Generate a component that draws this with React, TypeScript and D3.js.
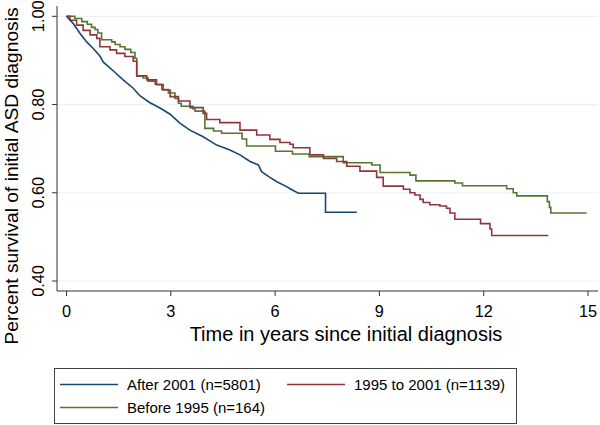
import React from "react";
import * as d3 from "d3";

// Kaplan-Meier survival estimates: [years, survival]
const after2001: [number, number][] = [
  [0, 1.0], [0.19, 0.984], [0.39, 0.961], [0.58, 0.942], [0.77, 0.927], [0.96, 0.91],
  [1.06, 0.896], [1.35, 0.876], [1.63, 0.856], [1.92, 0.837], [2.11, 0.82], [2.4, 0.804],
  [2.69, 0.792], [2.98, 0.778], [3.26, 0.758], [3.55, 0.742], [3.93, 0.727], [4.32, 0.708],
  [4.7, 0.697], [4.99, 0.686], [5.28, 0.671], [5.52, 0.663], [5.61, 0.648], [5.85, 0.635],
  [6.05, 0.625], [6.33, 0.614], [6.43, 0.609], [6.67, 0.599], [7.45, 0.599], [7.45, 0.556],
  [8.35, 0.556],
];

const from1995to2001: [number, number][] = [
  [0, 1.0], [0.1, 0.991], [0.29, 0.98], [0.48, 0.968], [0.68, 0.958], [0.87, 0.95],
  [0.96, 0.931], [1.25, 0.924], [1.44, 0.916], [1.68, 0.909], [1.92, 0.898], [2.02, 0.865],
  [2.31, 0.856], [2.59, 0.845], [2.78, 0.833], [2.98, 0.818], [3.22, 0.808], [3.55, 0.793],
  [3.93, 0.78], [4.03, 0.766], [4.41, 0.759], [4.99, 0.742], [5.47, 0.731], [5.85, 0.721],
  [6.14, 0.714], [6.43, 0.71], [6.52, 0.702], [7.0, 0.686], [7.39, 0.678], [7.77, 0.671],
  [8.06, 0.66], [8.44, 0.649], [8.92, 0.635], [9.11, 0.615], [9.69, 0.608], [9.88, 0.6],
  [10.02, 0.595], [10.17, 0.585], [10.26, 0.578], [10.45, 0.573], [10.74, 0.57], [10.93, 0.565],
  [11.03, 0.554], [11.17, 0.54], [11.91, 0.53], [12.18, 0.518], [12.23, 0.503], [13.86, 0.503],
];

const before1995: [number, number][] = [
  [0, 1.0], [0.24, 0.995], [0.44, 0.988], [0.6, 0.982], [0.72, 0.975], [0.82, 0.97],
  [0.9, 0.962], [1.01, 0.947], [1.3, 0.942], [1.4, 0.936], [1.54, 0.931], [1.68, 0.925],
  [1.85, 0.918], [1.97, 0.905], [2.02, 0.865], [2.2, 0.86], [2.35, 0.853], [2.55, 0.846],
  [2.74, 0.834], [2.93, 0.826], [3.12, 0.814], [3.22, 0.803], [3.3, 0.796], [3.64, 0.79],
  [3.7, 0.785], [3.98, 0.746], [4.23, 0.74], [4.46, 0.735], [5.05, 0.722], [5.18, 0.706],
  [6.01, 0.694], [6.5, 0.688], [6.98, 0.682], [7.96, 0.668], [8.78, 0.663], [9.02, 0.646],
  [9.88, 0.64], [10.05, 0.627], [11.17, 0.622], [11.39, 0.616], [12.66, 0.609], [12.85, 0.6],
  [12.95, 0.593], [13.83, 0.58], [13.89, 0.567], [13.93, 0.554], [14.96, 0.554],
];

const xTicks = [0, 3, 6, 9, 12, 15];
const yTicks = [0.4, 0.6, 0.8, 1.0];
const seriesNames = ["After 2001 (n=5801)", "1995 to 2001 (n=1139)", "Before 1995 (n=164)"];
const seriesColors = ["#1a476f", "#90353b", "#55752f"];
const xTitle = "Time in years since initial diagnosis";
const yTitle = "Percent survival of initial ASD diagnosis";

const W = 600;
const H = 425;
const FONT = "'Liberation Sans', Arial, Helvetica, sans-serif";

export default function App() {
  const x = d3.scaleLinear().domain([0, 15]).range([66.5, 588]);
  const y = d3.scaleLinear().domain([0.4, 1.0]).range([281, 16.3]);
  const axisLeft = 57;
  const axisBottom = 291;
  const plotRight = 598;

  const stepLine = d3
    .line<[number, number]>()
    .x((d) => x(d[0]))
    .y((d) => y(d[1]))
    .curve(d3.curveStepAfter);
  const linLine = d3
    .line<[number, number]>()
    .x((d) => x(d[0]))
    .y((d) => y(d[1]))
    .curve(d3.curveLinear);

  const series = [
    { data: after2001, path: linLine(after2001) },
    { data: from1995to2001, path: stepLine(from1995to2001) },
    { data: before1995, path: stepLine(before1995) },
  ];

  const legendItems = [
    { i: 0, lx: 60, tx: 127, ly: 384.5, ty: 389.5 },
    { i: 1, lx: 287, tx: 354, ly: 384.5, ty: 389.5 },
    { i: 2, lx: 60, tx: 127, ly: 407.5, ty: 412.5 },
  ];

  return (
    <svg
      width={W}
      height={H}
      viewBox={`0 0 ${W} ${H}`}
      style={{ position: "absolute", left: 0, top: 0, background: "#fff" }}
      fontFamily={FONT}
    >
      <rect x={0} y={0} width={W} height={H} fill="#fff" />
      {yTicks.map((t) => (
        <line key={"g" + t} x1={axisLeft} x2={plotRight} y1={y(t)} y2={y(t)} stroke="#eaf2f3" strokeWidth={1.2} />
      ))}
      {[2, 1, 0].map((i) => (
        <path key={"s" + i} d={series[i].path || ""} fill="none" stroke={seriesColors[i]} strokeWidth={1.6} />
      ))}
      <line x1={axisLeft} x2={axisLeft} y1={6} y2={axisBottom} stroke="#333" strokeWidth={1} />
      <line x1={axisLeft} x2={plotRight} y1={axisBottom} y2={axisBottom} stroke="#333" strokeWidth={1} />
      {yTicks.map((t) => (
        <g key={"yt" + t}>
          <line x1={axisLeft - 5} x2={axisLeft} y1={y(t)} y2={y(t)} stroke="#333" strokeWidth={1} />
          <text
            transform={`translate(44,${y(t)}) rotate(-90)`}
            textAnchor="middle"
            fontSize={16.3}
            fill="#000"
          >
            {t.toFixed(2)}
          </text>
        </g>
      ))}
      {xTicks.map((t) => (
        <g key={"xt" + t}>
          <line x1={x(t)} x2={x(t)} y1={axisBottom} y2={axisBottom + 5} stroke="#333" strokeWidth={1} />
          <text x={x(t)} y={317} textAnchor="middle" fontSize={16.3} fill="#000">
            {t}
          </text>
        </g>
      ))}
      <text x={346} y={341} textAnchor="middle" fontSize={20} fill="#000">
        {xTitle}
      </text>
      <text transform={`translate(18,176) rotate(-90)`} textAnchor="middle" fontSize={19.2} fill="#000">
        {yTitle}
      </text>
      <rect x={54.5} y={368.5} width={462} height={55} fill="#fff" stroke="#444" strokeWidth={1} />
      {legendItems.map((it) => (
        <g key={"l" + it.i}>
          <line x1={it.lx} x2={it.lx + 58} y1={it.ly} y2={it.ly} stroke={seriesColors[it.i]} strokeWidth={1.6} />
          <text x={it.tx} y={it.ty} fontSize={15} fill="#000">
            {seriesNames[it.i]}
          </text>
        </g>
      ))}
    </svg>
  );
}
